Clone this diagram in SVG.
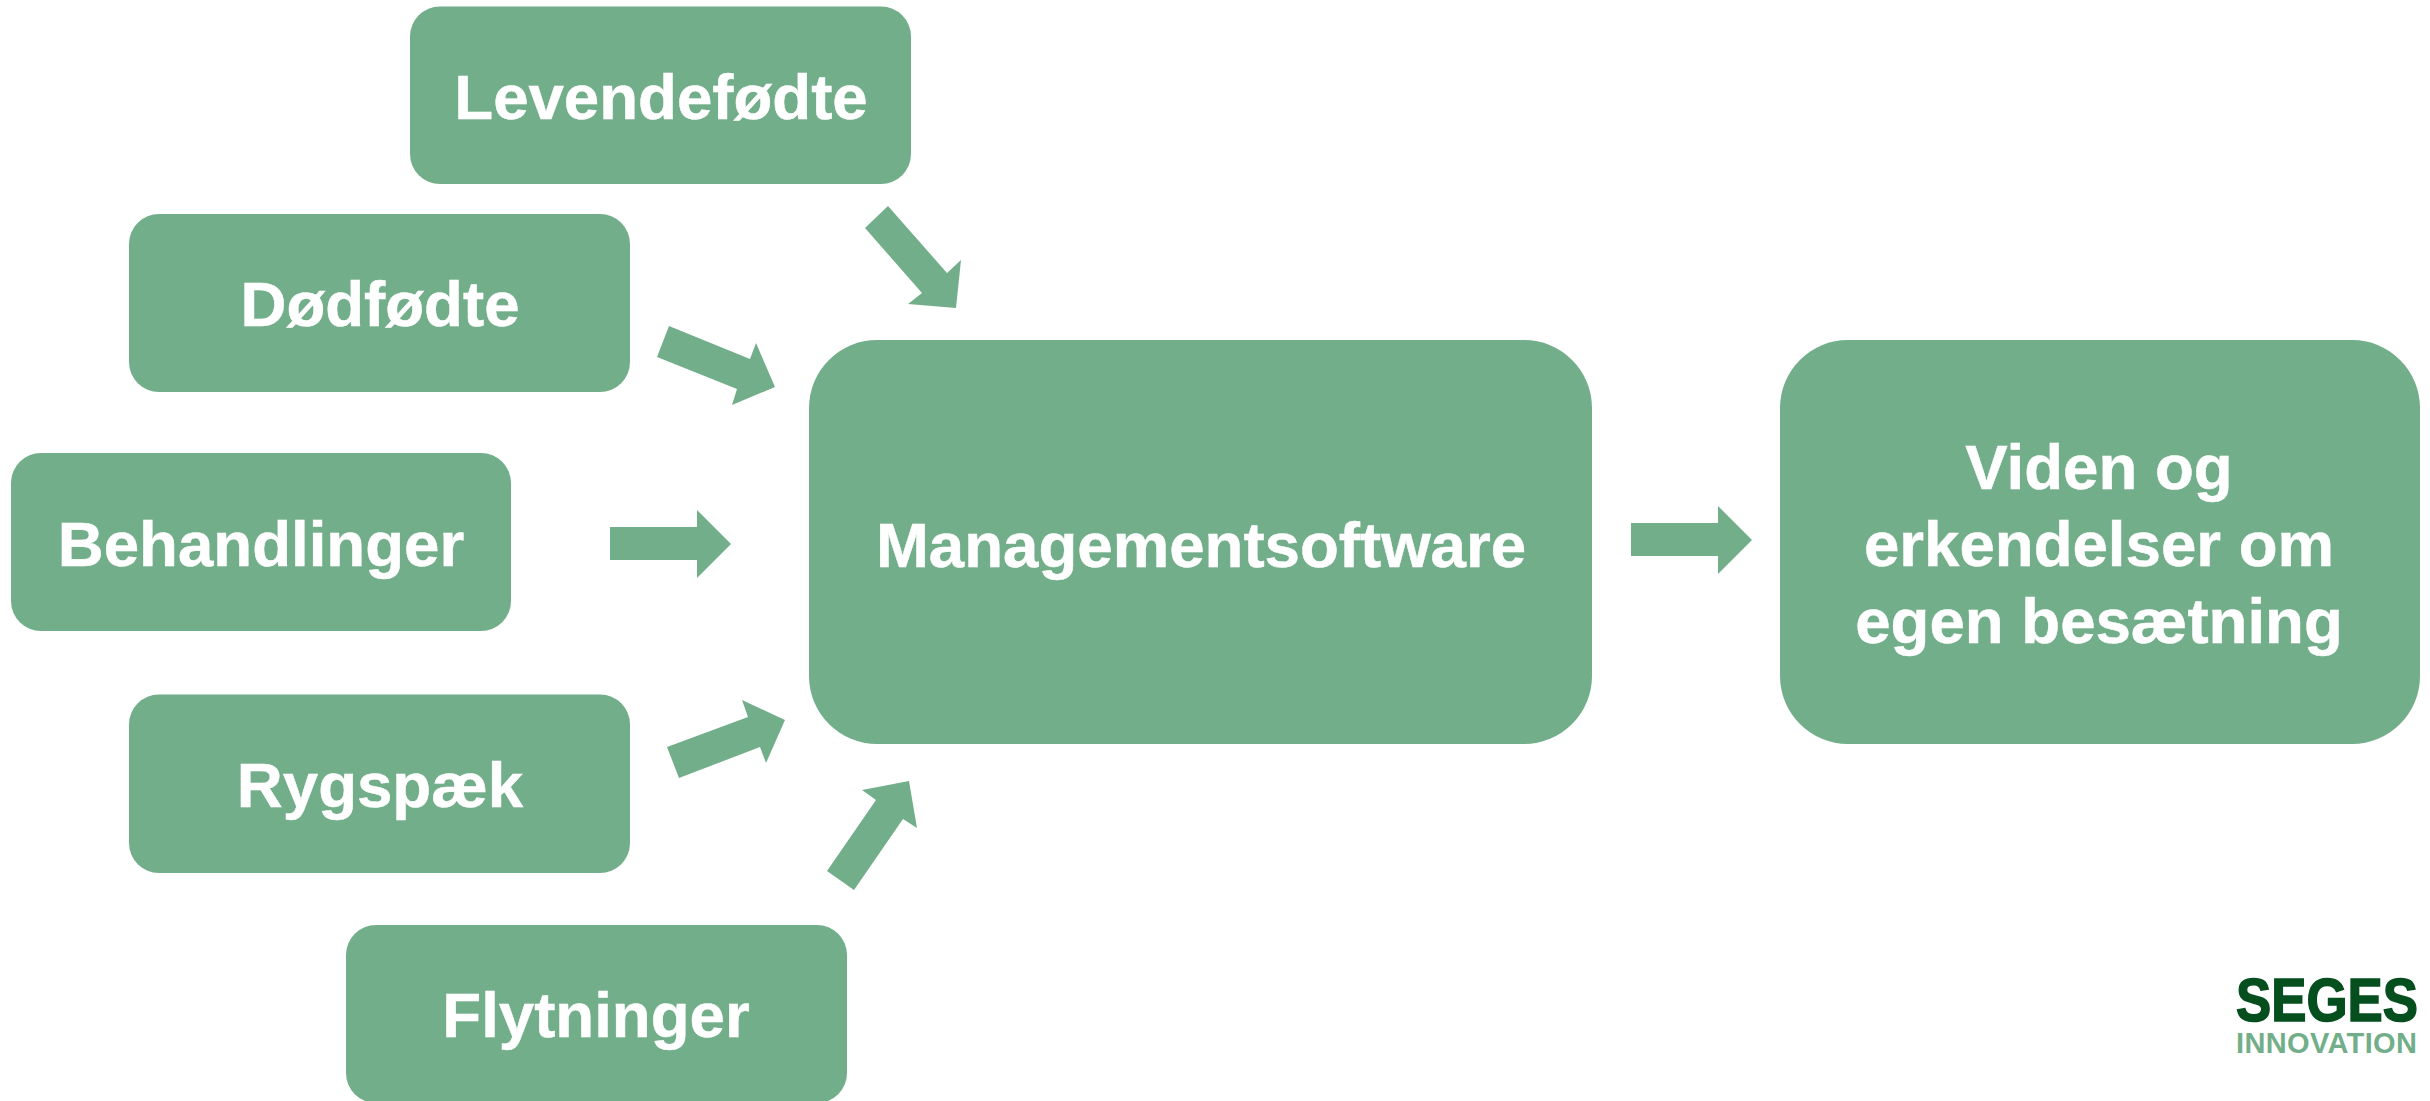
<svg xmlns="http://www.w3.org/2000/svg" width="2430" height="1101" viewBox="0 0 2430 1101">
<style>
.box{fill:#72ae8a}
.arrow{fill:#72ae8a}
.t{font-family:"Liberation Sans",Arial,sans-serif;font-weight:700;font-size:63.6px;fill:#fff;stroke:#fff;stroke-width:.5px;text-anchor:middle}
.logo1{font-family:"Liberation Sans",Arial,sans-serif;font-weight:700;font-size:62px;fill:#054f1e;stroke:#054f1e;stroke-width:1.6px}
.logo2{font-family:"Liberation Sans",Arial,sans-serif;font-weight:700;font-size:29px;letter-spacing:.35px;fill:#72ae8a}
</style>
<rect width="2430" height="1101" fill="#fff"/>
<g id="connectors">
<polygon class="arrow" points="888,206 865,228 922,293 908,304 956,308 961,260 947,273"/>
<polygon class="arrow" points="669,326 657,357 737,389 732,405 775,387 756,343 750,359"/>
<polygon class="arrow" points="610,527 697,527 697,510 731,544 697,578 697,560 610,560"/>
<polygon class="arrow" points="667,747 679,778 760,747 766,763 785,720 742,700 748,717"/>
<polygon class="arrow" points="827,871 854,890 903,819 917,828 909,781 862,790 876,800"/>
<polygon class="arrow" points="1631,523 1718,523 1718,506 1752,540 1718,574 1718,556 1631,556"/>
</g>
<g id="levendefodte"><rect class="box" x="410" y="6.500" width="501" height="177.500" rx="30"/><text class="t" x="661" y="119">Levendefødte</text></g>
<g id="dodfodte"><rect class="box" x="129" y="214" width="501" height="178" rx="30"/><text class="t" x="380" y="326">Dødfødte</text></g>
<g id="behandlinger"><rect class="box" x="11" y="453" width="500" height="178" rx="30"/><text class="t" x="261" y="566">Behandlinger</text></g>
<g id="rygspaek"><rect class="box" x="129" y="694.500" width="501" height="178.500" rx="30"/><text class="t" x="380" y="807">Rygspæk</text></g>
<g id="flytninger"><rect class="box" x="346" y="925" width="501" height="178" rx="30"/><text class="t" x="596" y="1037">Flytninger</text></g>
<g id="managementsoftware"><rect class="box" x="809" y="340" width="783" height="404" rx="68"/><text class="t" x="1201" y="567">Managementsoftware</text></g>
<g id="viden"><rect class="box" x="1780" y="340" width="640" height="404" rx="68"/><text class="t"><tspan x="2099" y="489">Viden og</tspan><tspan x="2099" y="566">erkendelser om</tspan><tspan x="2099" y="643">egen besætning</tspan></text></g>
<g id="logo"><text class="logo1" transform="translate(2236 1021) scale(.852 1)">SEGES</text><text class="logo2" x="2236" y="1053">INNOVATION</text></g>
</svg>
